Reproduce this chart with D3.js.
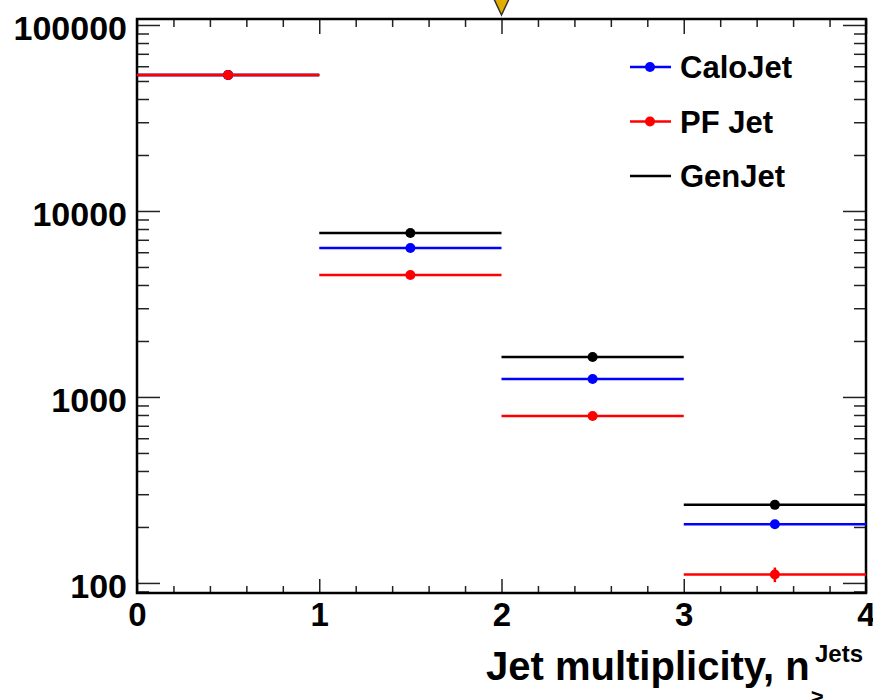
<!DOCTYPE html>
<html>
<head>
<meta charset="utf-8">
<script src="https://cdn.jsdelivr.net/npm/d3@7"></script>
<style>
  body { margin: 0; background: #fff; }
  svg text { font-family: "Liberation Sans", Arial, Helvetica, sans-serif; font-weight: bold; }
</style>
</head>
<body>
<div id="chart"></div>
<script>
// bins of inclusive jet multiplicity
var binLow = [0, 1, 2, 3];
var binHigh = [1, 2, 3, 4];

// event counts
var genJet = [53800, 7620, 1640, 263];
var caloJet = [53800, 6320, 1250, 207];
var pfJet = [53800, 4530, 790, 111];
var pfErr = [230, 67, 28, 10];

var seriesNames = ["CaloJet", "PF Jet", "GenJet"];
var yMajor = [100, 1000, 10000, 100000];
var xMajor = [0, 1, 2, 3, 4];

var W = 873, H = 700;
var margin = {top: 19, right: 7, bottom: 107, left: 137};

var svg = d3.select("#chart").append("svg")
    .attr("width", W)
    .attr("height", H);

var x = d3.scaleLinear().domain([0, 4]).range([margin.left, W - margin.right]);
var y = d3.scaleLog().domain([88.3, 107700]).range([H - margin.bottom, margin.top]);

// minor ticks for the log axis
var yMinor = [];
for (var dec = 10; dec <= 100000; dec *= 10) {
    for (var k = 2; k <= 9; k++) {
        var v = dec * k;
        if (v >= y.domain()[0] && v <= y.domain()[1]) yMinor.push(v);
    }
}
var xMinor = d3.range(0, 4.001, 0.2).filter(function(d){ return Math.abs(d - Math.round(d)) > 0.01; });

function styleAxis(g) {
    g.select(".domain").remove();
    g.selectAll(".tick line").attr("stroke", "#222").attr("stroke-width", 1.5);
    g.selectAll(".tick text").attr("fill", "#000");
}

var bottomY = y.range()[0], topY = y.range()[1];
var leftX = x.range()[0], rightX = x.range()[1];

// left axis
svg.append("g").attr("transform", "translate(" + leftX + ",0)")
    .call(d3.axisLeft(y).tickValues(yMinor).tickSize(-12).tickFormat(""))
    .call(styleAxis);
svg.append("g").attr("transform", "translate(" + leftX + ",0)")
    .call(d3.axisLeft(y).tickValues(yMajor).tickSize(-23).tickPadding(10).tickFormat(d3.format("d")))
    .call(styleAxis)
    .selectAll("text").style("font-size", "34px").attr("dy", "0.36em").attr("y", 2);

// right axis
svg.append("g").attr("transform", "translate(" + rightX + ",0)")
    .call(d3.axisRight(y).tickValues(yMinor).tickSize(-12).tickFormat(""))
    .call(styleAxis);
svg.append("g").attr("transform", "translate(" + rightX + ",0)")
    .call(d3.axisRight(y).tickValues(yMajor).tickSize(-23).tickFormat(""))
    .call(styleAxis);

// bottom axis
svg.append("g").attr("transform", "translate(0," + bottomY + ")")
    .call(d3.axisBottom(x).tickValues(xMinor).tickSize(-7).tickFormat(""))
    .call(styleAxis);
svg.append("g").attr("transform", "translate(0," + bottomY + ")")
    .call(d3.axisBottom(x).tickValues(xMajor).tickSize(-14).tickPadding(10).tickFormat(d3.format("d")))
    .call(styleAxis)
    .selectAll("text").style("font-size", "33px");

// top axis
svg.append("g").attr("transform", "translate(0," + topY + ")")
    .call(d3.axisTop(x).tickValues(xMinor).tickSize(-8).tickFormat(""))
    .call(styleAxis);
svg.append("g").attr("transform", "translate(0," + topY + ")")
    .call(d3.axisTop(x).tickValues(xMajor).tickSize(-15).tickFormat(""))
    .call(styleAxis);

// frame
svg.append("rect")
    .attr("x", leftX).attr("y", topY)
    .attr("width", rightX - leftX).attr("height", bottomY - topY)
    .attr("fill", "none").attr("stroke", "#000").attr("stroke-width", 2.5);

// data
var series = [
    {name: "GenJet", vals: genJet, err: null, color: "#000000"},
    {name: "CaloJet", vals: caloJet, err: null, color: "#0000ff"},
    {name: "PF Jet", vals: pfJet, err: pfErr, color: "#ff0000"}
];

series.forEach(function(s) {
    var g = svg.append("g");
    g.selectAll("line.h").data(s.vals).enter().append("line")
        .attr("class", "h")
        .attr("x1", function(d, i){ return x(binLow[i]); })
        .attr("x2", function(d, i){ return x(binHigh[i]); })
        .attr("y1", function(d){ return y(d); })
        .attr("y2", function(d){ return y(d); })
        .attr("stroke", s.color).attr("stroke-width", 2.5);
    if (s.err) {
        g.selectAll("line.v").data(s.vals).enter().append("line")
            .attr("class", "v")
            .attr("x1", function(d, i){ return x((binLow[i] + binHigh[i]) / 2); })
            .attr("x2", function(d, i){ return x((binLow[i] + binHigh[i]) / 2); })
            .attr("y1", function(d, i){ return y(d + s.err[i]); })
            .attr("y2", function(d, i){ return y(d - s.err[i]); })
            .attr("stroke", s.color).attr("stroke-width", 2.5);
    }
    g.selectAll("circle").data(s.vals).enter().append("circle")
        .attr("cx", function(d, i){ return x((binLow[i] + binHigh[i]) / 2); })
        .attr("cy", function(d){ return y(d); })
        .attr("r", 5)
        .attr("fill", s.color);
});

// arrow marker at the top
var ax = x(2);
svg.append("path")
    .attr("d", "M" + (ax - 8) + ",-2 L" + (ax + 8) + ",-2 L" + ax + ",15 Z")
    .attr("fill", "#e3ad00").attr("stroke", "#333").attr("stroke-width", 1.5);

// legend
var legend = [
    {name: "CaloJet", color: "#0000ff", marker: true},
    {name: "PF Jet", color: "#ff0000", marker: true},
    {name: "GenJet", color: "#000000", marker: false}
];
var lg = svg.append("g");
legend.forEach(function(d, i) {
    var ly = 67 + i * 54.5;
    lg.append("line").attr("x1", 630).attr("x2", 671).attr("y1", ly).attr("y2", ly)
        .attr("stroke", d.color).attr("stroke-width", 2.5);
    if (d.marker) lg.append("circle").attr("cx", 650).attr("cy", ly).attr("r", 5).attr("fill", d.color);
    lg.append("text").attr("x", 680).attr("y", ly + 11)
        .style("font-size", "31px").text(d.name);
});

// x title
var t = svg.append("text").attr("x", 486).attr("y", 680).style("font-size", "40px");
t.append("tspan").text("Jet multiplicity, n");
svg.append("text").attr("x", 815).attr("y", 662).style("font-size", "24px").text("Jets");
svg.append("text").attr("x", 811).attr("y", 705).style("font-size", "22px").text("\u2265");
</script>
</body>
</html>
